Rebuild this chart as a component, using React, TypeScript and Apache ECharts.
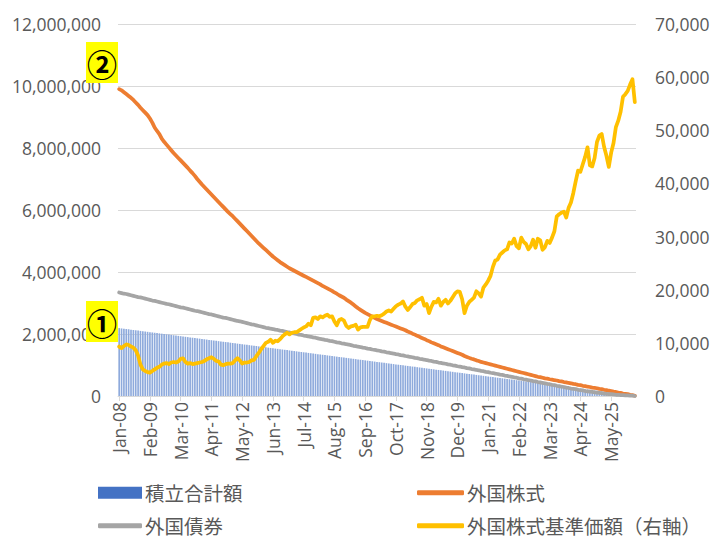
import React, { useEffect, useRef } from "react";
import * as echarts from "echarts";

// Units: 万円 (10,000 yen) for the left-axis series
const UNIT = 10000;

const BARS_MAN = [
  219, 218, 217, 216, 215, 214, 213, 212, 211, 210, 209, 208,
  207, 206, 205, 204, 203, 202, 201, 200, 199, 198, 197, 196,
  195, 194, 193, 192, 191, 190, 189, 188, 187, 186, 185, 184,
  183, 182, 181, 180, 179, 178, 177, 176, 175, 174, 173, 172,
  171, 170, 169, 168, 167, 166, 165, 164, 163, 162, 161, 160,
  159, 158, 157, 156, 155, 154, 153, 152, 151, 150, 149, 148,
  147, 146, 145, 144, 143, 142, 141, 140, 139, 138, 137, 136,
  135, 134, 133, 132, 131, 130, 129, 128, 127, 126, 125, 124,
  123, 122, 121, 120, 119, 118, 117, 116, 115, 114, 113, 112,
  111, 110, 109, 108, 107, 106, 105, 104, 103, 102, 101, 100,
  99, 98, 97, 96, 95, 94, 93, 92, 91, 90, 89, 88,
  87, 86, 85, 84, 83, 82, 81, 80, 79, 78, 77, 76,
  75, 74, 73, 72, 71, 70, 69, 68, 67, 66, 65, 64,
  63, 62, 61, 60, 59, 58, 57, 56, 55, 54, 53, 52,
  51, 50, 49, 48, 47, 46, 45, 44, 43, 42, 41, 40,
  39, 38, 37, 36, 35, 34, 33, 32, 31, 30, 29, 28,
  27, 26, 25, 24, 23, 22, 21, 20, 19, 18, 17, 16,
  15, 14, 13, 12, 11, 10, 9, 8, 7, 6, 5, 4,
  3, 2, 1,
];

const STOCK_MAN = [
  990, 986, 980, 974, 968, 962, 955, 947, 939, 930, 922, 914,
  906, 895, 882, 866, 855, 845, 830, 820, 811, 802, 793, 784,
  776, 768, 760, 752, 744, 736, 727, 719, 710, 700, 691, 682,
  674, 666, 658, 650, 642, 634, 626, 618, 610, 602, 594, 587,
  580, 572, 564, 556, 548, 540, 532, 524, 516, 508, 500, 492,
  485, 478, 471, 464, 457, 450, 444, 438, 432, 427, 422, 417,
  412, 408, 404, 400, 396, 392, 388, 384, 380, 376, 372, 368,
  364, 360, 355, 351, 347, 343, 339, 334, 330, 325, 321, 317,
  311, 306, 301, 295, 289, 283, 278, 273, 268, 264, 260, 256,
  252, 248, 245, 242, 239, 236, 233, 230, 227, 224, 221, 218,
  215, 212, 208, 205, 201, 198, 194, 191, 187, 184, 180, 177,
  173, 170, 167, 164, 160, 157, 154, 151, 148, 145, 142, 139,
  136, 133, 129, 126, 123, 120, 118, 115, 113, 110, 108, 106,
  104, 102, 100, 98, 96, 94, 92, 90, 88, 86, 84, 82,
  80, 78, 76, 74, 72, 70, 68, 66, 64, 62, 61, 59,
  57, 56, 54, 53, 51, 50, 48, 47, 45, 44, 42, 41,
  39, 38, 36, 35, 33, 32, 30, 29, 27, 26, 25, 23,
  22, 20, 19, 17, 16, 14, 13, 11, 10, 8, 7, 6,
  4, 3, 1,
];

const BOND_MAN = [
  334, 332, 330, 329, 327, 325, 323, 321, 319, 318, 316, 314,
  312, 310, 308, 307, 305, 303, 301, 299, 297, 296, 294, 292,
  290, 288, 286, 285, 283, 281, 279, 277, 275, 274, 272, 270,
  268, 266, 264, 263, 261, 259, 257, 255, 253, 252, 250, 248,
  246, 244, 242, 241, 239, 237, 235, 233, 231, 230, 228, 226,
  224, 222, 220, 219, 217, 216, 214, 213, 211, 210, 208, 206,
  205, 203, 202, 200, 198, 197, 195, 194, 192, 191, 189, 188,
  186, 184, 183, 181, 180, 178, 177, 175, 173, 172, 170, 169,
  167, 166, 164, 162, 161, 159, 158, 156, 155, 153, 152, 150,
  149, 147, 146, 144, 143, 141, 140, 138, 137, 135, 134, 132,
  131, 129, 128, 126, 125, 123, 122, 120, 119, 117, 116, 114,
  113, 111, 110, 108, 107, 105, 104, 102, 101, 99, 98, 96,
  95, 93, 92, 90, 89, 87, 86, 84, 83, 81, 80, 78,
  77, 75, 74, 72, 71, 69, 68, 66, 65, 63, 62, 60,
  59, 57, 56, 54, 53, 51, 50, 48, 47, 45, 44, 42,
  41, 39, 38, 36, 35, 33, 32, 30, 29, 27, 26, 24,
  23, 22, 20, 19, 18, 16, 15, 14, 13, 12, 11, 10,
  9, 8, 7, 6, 6, 5, 4, 4, 3, 3, 2, 2,
  1, 1, 0,
];

const PRICE = [
  9300, 9000, 9400, 9700, 9600, 9300, 9100, 8600, 7600, 5900, 5000, 4700,
  4500, 4400, 4700, 5000, 5300, 5500, 5900, 6100, 6200, 6000, 6300, 6400,
  6300, 6500, 7000, 7100, 6400, 6100, 6200, 6000, 6100, 6200, 6300, 6400,
  6600, 6900, 7100, 7300, 7000, 6600, 6500, 5900, 5800, 6000, 6100, 6100,
  6200, 6700, 7100, 6700, 6100, 6300, 6300, 6400, 6700, 6800, 7500, 8100,
  8800, 9400, 10000, 10200, 10600, 10000, 10400, 10300, 10700, 11200, 11600, 11900,
  11600, 11900, 12000, 12000, 12300, 12600, 12900, 13100, 13600, 13300, 14700, 14800,
  14500, 15000, 14800, 15100, 15300, 14900, 15000, 14000, 13300, 14300, 14500, 14200,
  13200, 12800, 13100, 13200, 13400, 12500, 12900, 13000, 13000, 13000, 14300, 15000,
  15000, 15100, 15000, 15200, 15500, 15900, 16100, 15900, 16400, 16900, 17200, 17400,
  17800, 16800, 16200, 16700, 17300, 17500, 18000, 18200, 18500, 17000, 17300, 15600,
  16800, 17700, 17600, 18300, 17000, 17700, 18100, 17400, 17900, 18600, 19300, 19700,
  19600, 18200, 15600, 17000, 17700, 18100, 18500, 19700, 19300, 18700, 20400, 21000,
  21700, 22600, 24300, 25500, 25700, 26600, 27000, 27400, 27600, 28900, 28700, 29600,
  28200, 27800, 29800, 29000, 28600, 27600, 28200, 29400, 27900, 29600, 29300, 27500,
  28000, 29200, 28800, 29800, 31000, 33800, 34200, 34500, 34700, 33600, 35400, 36400,
  38200, 40400, 42400, 42200, 43600, 45000, 46800, 43400, 43200, 44800, 47800, 49000,
  49300, 46900, 45200, 43100, 45800, 47600, 50600, 51800, 53500, 56300, 56800, 57400,
  58600, 59600, 55300,
];

const MONTHS = ["Jan", "Feb", "Mar", "Apr", "May", "Jun", "Jul", "Aug", "Sep", "Oct", "Nov", "Dec"];
const START_YEAR = 2008;
const CATEGORIES = BARS_MAN.map((_, i) => {
  const y = (START_YEAR + Math.floor(i / 12)) % 100;
  return `${MONTHS[i % 12]}-${String(y).padStart(2, "0")}`;
});

const LEFT_TICKS = { min: 0, max: 12000000, interval: 2000000 };
const RIGHT_TICKS = { min: 0, max: 70000, interval: 10000 };

const NAMES = ["積立合計額", "外国株式", "外国債券", "外国株式基準価額（右軸）"];
const COLORS = ["#4472C4", "#ED7D31", "#A5A5A5", "#FFC000"];
const BAR_FILL = "#8EAADC";

const NUM_FONT = "'Open Sans', 'Noto Sans', sans-serif";
const JP_FONT = "'Noto Sans CJK JP', sans-serif";
const TEXT_COLOR = "#595959";

export default function App() {
  const ref = useRef<HTMLDivElement>(null);

  useEffect(() => {
    if (!ref.current) return;
    const chart = echarts.init(ref.current, undefined, { renderer: "svg" });
    const fmt = (v: number) => v.toLocaleString("en-US");
    const legendText = {
      color: TEXT_COLOR,
      fontSize: 19.5,
      fontFamily: JP_FONT,
      padding: [0, 0, 0, -2],
    };

    chart.setOption({
      animation: false,
      backgroundColor: "#ffffff",
      grid: { left: 118, right: 77, top: 24, bottom: 142, containLabel: false },
      xAxis: {
        type: "category",
        data: CATEGORIES,
        boundaryGap: true,
        axisLine: { lineStyle: { color: "#D9D9D9", width: 1 } },
        axisTick: {
          show: true,
          interval: 12,
          alignWithLabel: true,
          length: 5,
          lineStyle: { color: "#D9D9D9" },
        },
        axisLabel: {
          interval: 12,
          rotate: 90,
          margin: 6,
          color: TEXT_COLOR,
          fontSize: 17.5,
          fontFamily: NUM_FONT,
        },
        splitLine: { show: false },
      },
      yAxis: [
        {
          type: "value",
          ...LEFT_TICKS,
          axisLine: { show: false },
          axisTick: { show: false },
          axisLabel: {
            formatter: fmt,
            color: TEXT_COLOR,
            fontSize: 17.5,
            fontFamily: NUM_FONT,
            margin: 17,
          },
          splitLine: { show: true, lineStyle: { color: "#D9D9D9", width: 1 } },
        },
        {
          type: "value",
          ...RIGHT_TICKS,
          position: "right",
          axisLine: { show: false },
          axisTick: { show: false },
          axisLabel: {
            formatter: fmt,
            color: TEXT_COLOR,
            fontSize: 17.5,
            fontFamily: NUM_FONT,
            margin: 19,
          },
          splitLine: { show: false },
        },
      ],
      legend: [
        {
          left: 93, top: 478, itemWidth: 44, itemHeight: 12, itemGap: 0,
          data: [{ name: NAMES[0], icon: "rect", itemStyle: { color: COLORS[0] } }],
          textStyle: legendText,
        },
        {
          left: 412, top: 478, itemWidth: 47, itemHeight: 5, itemGap: 0,
          data: [{ name: NAMES[1], icon: "roundRect" }],
          textStyle: legendText,
        },
        {
          left: 93, top: 511, itemWidth: 44, itemHeight: 5, itemGap: 0,
          data: [{ name: NAMES[2], icon: "roundRect" }],
          textStyle: legendText,
        },
        {
          left: 412, top: 511, itemWidth: 47, itemHeight: 5, itemGap: 0,
          data: [{ name: NAMES[3], icon: "roundRect" }],
          textStyle: legendText,
        },
      ],
      series: [
        {
          name: NAMES[0],
          type: "bar",
          data: BARS_MAN.map((v) => v * UNIT),
          barCategoryGap: "30%",
          itemStyle: { color: BAR_FILL },
          yAxisIndex: 0,
        },
        {
          name: NAMES[1],
          type: "line",
          data: STOCK_MAN.map((v) => v * UNIT),
          symbol: "none",
          yAxisIndex: 0,
          itemStyle: { color: COLORS[1] },
          lineStyle: { color: COLORS[1], width: 3.75, cap: "round", join: "round" },
        },
        {
          name: NAMES[2],
          type: "line",
          data: BOND_MAN.map((v) => v * UNIT),
          symbol: "none",
          yAxisIndex: 0,
          itemStyle: { color: COLORS[2] },
          lineStyle: { color: COLORS[2], width: 3.75, cap: "round", join: "round" },
        },
        {
          name: NAMES[3],
          type: "line",
          data: PRICE,
          symbol: "none",
          yAxisIndex: 1,
          itemStyle: { color: COLORS[3] },
          lineStyle: { color: COLORS[3], width: 3.75, cap: "round", join: "round" },
        },
      ],
      graphic: [
        {
          type: "rect", z: 100,
          shape: { x: 86, y: 42, width: 32, height: 41 },
          style: { fill: "#FFFF00" },
        },
        {
          type: "text", z: 101, x: 102, y: 63,
          style: {
            text: "②", fill: "#000", align: "center", verticalAlign: "middle",
            font: `bold 30px ${JP_FONT}`,
          },
        },
        {
          type: "rect", z: 100,
          shape: { x: 86, y: 301, width: 32, height: 41 },
          style: { fill: "#FFFF00" },
        },
        {
          type: "text", z: 101, x: 102, y: 322,
          style: {
            text: "①", fill: "#000", align: "center", verticalAlign: "middle",
            font: `bold 30px ${JP_FONT}`,
          },
        },
      ],
    });

    return () => chart.dispose();
  }, []);

  return (
    <div
      ref={ref}
      style={{ position: "absolute", left: 0, top: 0, width: 713, height: 538 }}
    />
  );
}
